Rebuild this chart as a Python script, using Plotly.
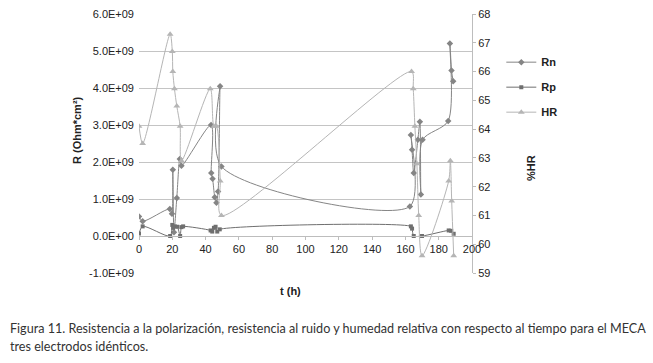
import plotly.graph_objects as go

# ---- data ----
t_rn = [0, 2.2, 18.5, 19.8, 20.3, 21.0, 22.7, 24.5, 25.5, 43.3, 43.4, 44.2, 45.5, 46.5, 47.5, 48.7, 49.5,
        162.7, 163.3, 164.0, 165.0, 167.5, 168.7, 169.3, 170.3, 185.7, 186.7, 187.7, 188.7]
rn = [0.53, 0.40, 0.73, 0.60, 1.79, 0.10, 1.03, 2.08, 1.90, 3.00, 1.70, 1.55, 1.05, 0.90, 1.20, 4.05, 1.88,
      0.80, 2.73, 2.33, 1.70, 2.60, 3.09, 1.12, 2.60, 3.11, 5.20, 4.47, 4.18]

t_rp = [0, 2.2, 18.7, 20.0, 20.5, 21.5, 23.0, 24.7, 25.5, 26.5, 43.0, 44.0, 45.0, 46.0, 47.0, 48.5,
        163.3, 164.0, 165.0, 170.0, 186.0, 187.5, 189.0]
rp = [0.07, 0.26, 0.00, 0.30, 0.22, 0.26, 0.25, 0.00, 0.24, 0.26, 0.15, 0.12, 0.22, 0.25, 0.12, 0.18,
      0.26, 0.20, 0.00, 0.00, 0.15, 0.14, 0.06]

t_hr = [0, 2.2, 18.7, 20.0, 20.3, 21.3, 22.7, 24.7, 25.5, 42.8, 45.0, 46.5, 48.8, 49.5,
        163.7, 164.7, 165.7, 166.9, 168.0, 170.0, 186.0, 187.0, 187.8, 189.0]
hr = [64.1, 63.5, 67.3, 66.7, 66.0, 65.4, 64.8, 64.1, 62.9, 65.4, 64.1, 64.1, 62.2, 61.0,
      66.0, 65.4, 64.1, 62.8, 61.0, 59.6, 62.2, 62.9, 61.5, 59.6]

y_tickvals = [-1e9, 0, 1e9, 2e9, 3e9, 4e9, 5e9, 6e9]
y_ticktext = ["-1.0E+09", "0.0E+00", "1.0E+09", "2.0E+09", "3.0E+09", "4.0E+09", "5.0E+09", "6.0E+09"]

rn_vals = [v * 1e9 for v in rn]
rp_vals = [v * 1e9 for v in rp]

FONT = "Liberation Sans, Arial, sans-serif"
SMOOTH = 0.8

fig = go.Figure()
fig.add_trace(go.Scatter(x=t_rn, y=rn_vals, name="Rn", mode="lines+markers",
                         line=dict(color="#858585", width=1, shape="spline", smoothing=SMOOTH),
                         marker=dict(symbol="diamond", size=5, color="#858585"),
                         legendgroup="a"))
fig.add_trace(go.Scatter(x=t_rp, y=rp_vals, name="Rp", mode="lines+markers",
                         line=dict(color="#6f6f6f", width=1, shape="spline", smoothing=SMOOTH),
                         marker=dict(symbol="square", size=4, color="#6f6f6f"),
                         legendgroup="b"))
fig.add_trace(go.Scatter(x=t_hr, y=hr, name="HR", mode="lines+markers", yaxis="y2",
                         line=dict(color="#b5b5b5", width=1, shape="spline", smoothing=SMOOTH),
                         marker=dict(symbol="triangle-up", size=6, color="#b5b5b5"),
                         legendgroup="c"))

fig.update_layout(
    width=653, height=363,
    margin=dict(l=139, r=181, t=14, b=90, autoexpand=False),
    paper_bgcolor="white", plot_bgcolor="white",
    font=dict(family=FONT, size=11, color="#222222"),
    showlegend=True,
    legend=dict(x=1.088, y=0.87, xanchor="left", yanchor="top",
                font=dict(family=FONT, size=11, color="#222222", weight="bold"),
                tracegroupgap=6, bgcolor="rgba(0,0,0,0)"),
    xaxis=dict(range=[0, 200], dtick=20, tick0=0, anchor="free", position=1/7, automargin=False,
               showgrid=False, zeroline=False, showline=True, linecolor="#bdbdbd", linewidth=1,
               ticks="outside", ticklen=3, tickcolor="#bdbdbd",
               tickfont=dict(family=FONT, size=11, color="#222222")),
    yaxis=dict(range=[-1e9, 6e9], tickvals=y_tickvals, ticktext=y_ticktext, automargin=False,
               showgrid=True, gridcolor="#c4c4c4", gridwidth=1, zeroline=False,
               showline=False, ticks="", ticklabelstandoff=4,
               tickfont=dict(family=FONT, size=11, color="#222222")),
    yaxis2=dict(range=[59, 68], dtick=1, overlaying="y", side="right", anchor="x", automargin=False,
                showgrid=False, zeroline=False, showline=True, linecolor="#bdbdbd", linewidth=1,
                ticks="outside", ticklen=3, tickcolor="#bdbdbd",
                tickfont=dict(family=FONT, size=11, color="#222222")),
)

fig.add_annotation(text="R (Ohm*cm²)", xref="paper", yref="paper", x=(77 - 139) / 333, y=(273 - 130) / 259,
                   textangle=-90, showarrow=False, xanchor="center", yanchor="middle",
                   font=dict(family=FONT, size=11, color="#222222", weight="bold"))
fig.add_annotation(text="%HR", xref="paper", yref="paper", x=(531 - 139) / 333, y=(273 - 168) / 259,
                   textangle=-90, showarrow=False, xanchor="center", yanchor="middle",
                   font=dict(family=FONT, size=11, color="#222222", weight="bold"))
fig.add_annotation(text="t (h)", xref="paper", yref="paper", x=(290 - 139) / 333, y=(273 - 291) / 259,
                   showarrow=False, xanchor="center", yanchor="middle",
                   font=dict(family=FONT, size=11, color="#222222", weight="bold"))
fig.add_annotation(text="Figura 11. Resistencia a la polarización, resistencia al ruido y humedad relativa con respecto al tiempo para el MECA",
                   xref="paper", yref="paper", x=(8 - 139) / 333, y=(273 - 328) / 259,
                   showarrow=False, xanchor="left", yanchor="middle",
                   font=dict(family="Lato, sans-serif", size=12.6, color="#333333"))
fig.add_annotation(text="tres electrodos idénticos.",
                   xref="paper", yref="paper", x=(8 - 139) / 333, y=(273 - 347) / 259,
                   showarrow=False, xanchor="left", yanchor="middle",
                   font=dict(family="Lato, sans-serif", size=12.6, color="#333333"))

fig.write_html("out.html", config={"displayModeBar": False},
               post_script="document.body.style.margin='0';document.body.style.overflow='hidden';")
